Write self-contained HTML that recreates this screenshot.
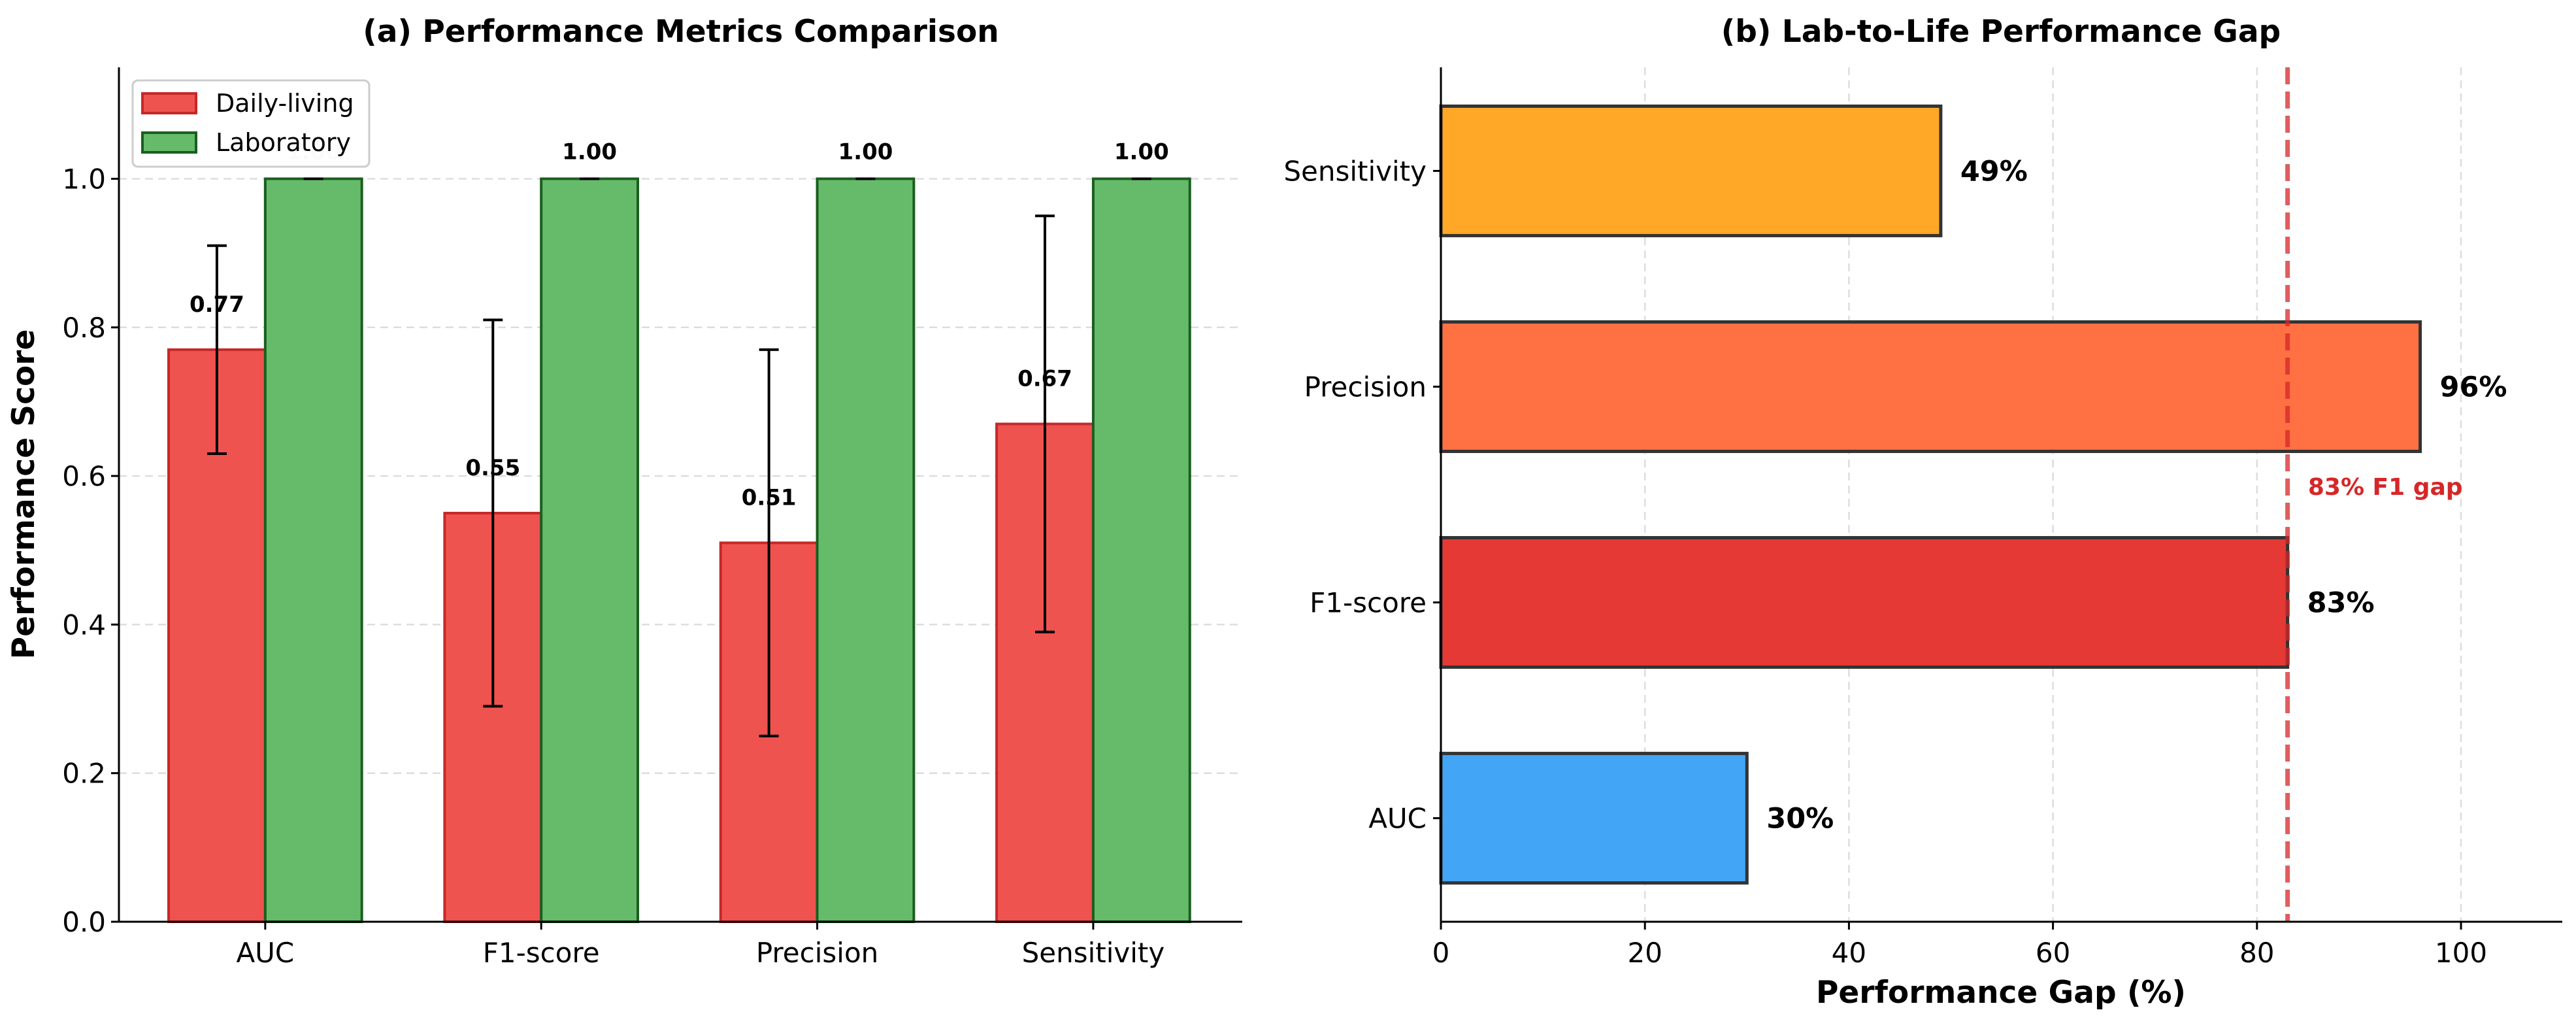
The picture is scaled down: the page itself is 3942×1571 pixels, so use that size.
<!DOCTYPE html>
<html><head><meta charset="utf-8"><style>
html,body{margin:0;padding:0;background:#fff}
svg{display:block;font-family:"DejaVu Sans","Liberation Sans",sans-serif}
</style></head><body>
<svg id="chart" width="3942" height="1571" viewBox="0 0 3942 1571" xmlns="http://www.w3.org/2000/svg">
<rect width="3942" height="1571" fill="#fff"/>
<g id="left"></g>
<g id="right"></g>
</svg>
<script>
const categories = ["AUC","F1-score","Precision","Sensitivity"];
const dailyValues = [0.77,0.55,0.51,0.67];
const dailyLow = [0.63,0.29,0.25,0.39];
const dailyHigh = [0.91,0.81,0.77,0.95];
const labValues = [1.00,1.00,1.00,1.00];
const yTicks = [0.0,0.2,0.4,0.6,0.8,1.0];
const gapCategories = ["AUC","F1-score","Precision","Sensitivity"];
const gapValues = [30,83,96,49];
const gapColors = ["#42a5f5","#e53935","#ff7043","#ffa726"];
const xTicks = [0,20,40,60,80,100];
const f1Gap = 83;

const NS="http://www.w3.org/2000/svg";
function mk(parent,tag,attrs,text){const e=document.createElementNS(NS,tag);for(const k in attrs)e.setAttribute(k,attrs[k]);if(text!==undefined)e.textContent=text;parent.appendChild(e);return e;}

// ---- Panel A ----
const L=document.getElementById('left');
const aL=182,aR=1901,aT=103,aB=1410;
const yA=v=>aB-(v/1.15)*(aB-aT);
const xA=i=>aL+(i+0.53)*((aR-aL)/4.07);
const bw=0.35*((aR-aL)/4.07);
yTicks.forEach(t=>{
  const g=mk(L,'line',{x1:aL,x2:aR,y1:yA(t),y2:yA(t),stroke:'#ddd','stroke-width':2.5,'stroke-dasharray':'12,8'});
  
  
});
categories.forEach((c,i)=>{
  const cx=xA(i);
  const r=mk(L,'rect',{x:cx-bw,y:yA(dailyValues[i]),width:bw,height:aB-yA(dailyValues[i]),fill:'#ef5350',stroke:'#c62828','stroke-width':4});
  
  
  const gr=mk(L,'rect',{x:cx,y:yA(labValues[i]),width:bw,height:aB-yA(labValues[i]),fill:'#66bb6a',stroke:'#1b5e20','stroke-width':4});
  
  
  const ex=cx-bw/2;
  const eb=mk(L,'path',{d:`M${ex},${yA(dailyLow[i])}V${yA(dailyHigh[i])}M${ex-15},${yA(dailyLow[i])}h30M${ex-15},${yA(dailyHigh[i])}h30`,stroke:'#000','stroke-width':4,fill:'none'});
  
  
  mk(L,'path',{d:`M${cx+bw/2-15},${yA(labValues[i])}h30`,stroke:'#000','stroke-width':4});
  const t1=mk(L,'text',{x:ex,y:yA(dailyValues[i])-58,'text-anchor':'middle','font-size':34,'font-weight':'bold'},dailyValues[i].toFixed(2));
  
  
  const t2=mk(L,'text',{x:cx+bw/2,y:yA(labValues[i])-30,'text-anchor':'middle','font-size':34,'font-weight':'bold',fill:i===0?'#ddd':'#000'},labValues[i].toFixed(2));
  
  
  mk(L,'line',{x1:cx,x2:cx,y1:aB,y2:aB+12,stroke:'#000','stroke-width':3});
  const xl=mk(L,'text',{x:cx,y:aB+62,'text-anchor':'middle','font-size':42},c);
  
  
});
yTicks.forEach(t=>{
  mk(L,'line',{x1:aL-12,x2:aL,y1:yA(t),y2:yA(t),stroke:'#000','stroke-width':3});
  const tl=mk(L,'text',{x:aL-20,y:yA(t)+15,'text-anchor':'end','font-size':42},t.toFixed(1));
  
  
});
mk(L,'line',{x1:aL,x2:aL,y1:aT,y2:aB,stroke:'#000','stroke-width':3});
mk(L,'line',{x1:aL,x2:aR,y1:aB,y2:aB,stroke:'#000','stroke-width':3});
const ttl=mk(L,'text',{x:1042,y:64,'text-anchor':'middle','font-size':47,'font-weight':'bold'},'(a) Performance Metrics Comparison');


const yl=mk(L,'text',{x:0,y:0,transform:'translate(52,756) rotate(-90)','text-anchor':'middle','font-size':47,'font-weight':'bold'},'Performance Score');


const lg=mk(L,'g',{});


mk(lg,'rect',{x:203,y:123,width:362,height:132,rx:8,fill:'#fff','fill-opacity':0.85,stroke:'#ccc','stroke-width':3});
mk(lg,'rect',{x:218,y:143,width:82,height:30,fill:'#ef5350',stroke:'#c62828','stroke-width':4});
mk(lg,'text',{x:330,y:171,'font-size':38},'Daily-living');
mk(lg,'rect',{x:218,y:203,width:82,height:30,fill:'#66bb6a',stroke:'#1b5e20','stroke-width':4});
mk(lg,'text',{x:330,y:231,'font-size':38},'Laboratory');

// ---- Panel B ----
const R=document.getElementById('right');
const bL=2205,bR=3921,bT=103,bB=1410;
const xB=v=>bL+v*((3766-bL)/100);
const yB=i=>bB-(i+0.48)*((bB-bT)/3.96);
const bh=0.6*((bB-bT)/3.96);
xTicks.forEach(t=>{
  const g=mk(R,'line',{x1:xB(t),x2:xB(t),y1:bT,y2:bB,stroke:'#ddd','stroke-width':2.5,'stroke-dasharray':'12,8'});
  
  
});
gapCategories.forEach((c,i)=>{
  const cy=yB(i);
  const r=mk(R,'rect',{x:bL,y:cy-bh/2,width:xB(gapValues[i])-bL,height:bh,fill:gapColors[i],stroke:'#333','stroke-width':5});
  
  
  const t=mk(R,'text',{x:xB(gapValues[i])+30,y:cy+15,'font-size':43,'font-weight':'bold'},gapValues[i]+'%');
  
  
  mk(R,'line',{x1:bL-12,x2:bL,y1:cy,y2:cy,stroke:'#000','stroke-width':3});
  const yl2=mk(R,'text',{x:bL-22,y:cy+15,'text-anchor':'end','font-size':42},c);
  
  
});
const ref=mk(R,'line',{x1:xB(f1Gap),x2:xB(f1Gap),y1:bT,y2:bB,stroke:'#d62728','stroke-opacity':0.75,'stroke-width':7,'stroke-dasharray':'26,11'});


const rl=mk(R,'text',{x:xB(f1Gap+2),y:757,'font-size':36,'font-weight':'bold',fill:'#d62728'},f1Gap+'% F1 gap');


xTicks.forEach(t=>{
  mk(R,'line',{x1:xB(t),x2:xB(t),y1:bB,y2:bB+12,stroke:'#000','stroke-width':3});
  const tl=mk(R,'text',{x:xB(t),y:bB+62,'text-anchor':'middle','font-size':42},String(t));
  
  
});
mk(R,'line',{x1:bL,x2:bL,y1:bT,y2:bB,stroke:'#000','stroke-width':3});
mk(R,'line',{x1:bL,x2:bR,y1:bB,y2:bB,stroke:'#000','stroke-width':3});
const t2=mk(R,'text',{x:3062,y:64,'text-anchor':'middle','font-size':47,'font-weight':'bold'},'(b) Lab-to-Life Performance Gap');


const xl2=mk(R,'text',{x:3062,y:1534,'text-anchor':'middle','font-size':47,'font-weight':'bold'},'Performance Gap (%)');


</script>
</body></html>
